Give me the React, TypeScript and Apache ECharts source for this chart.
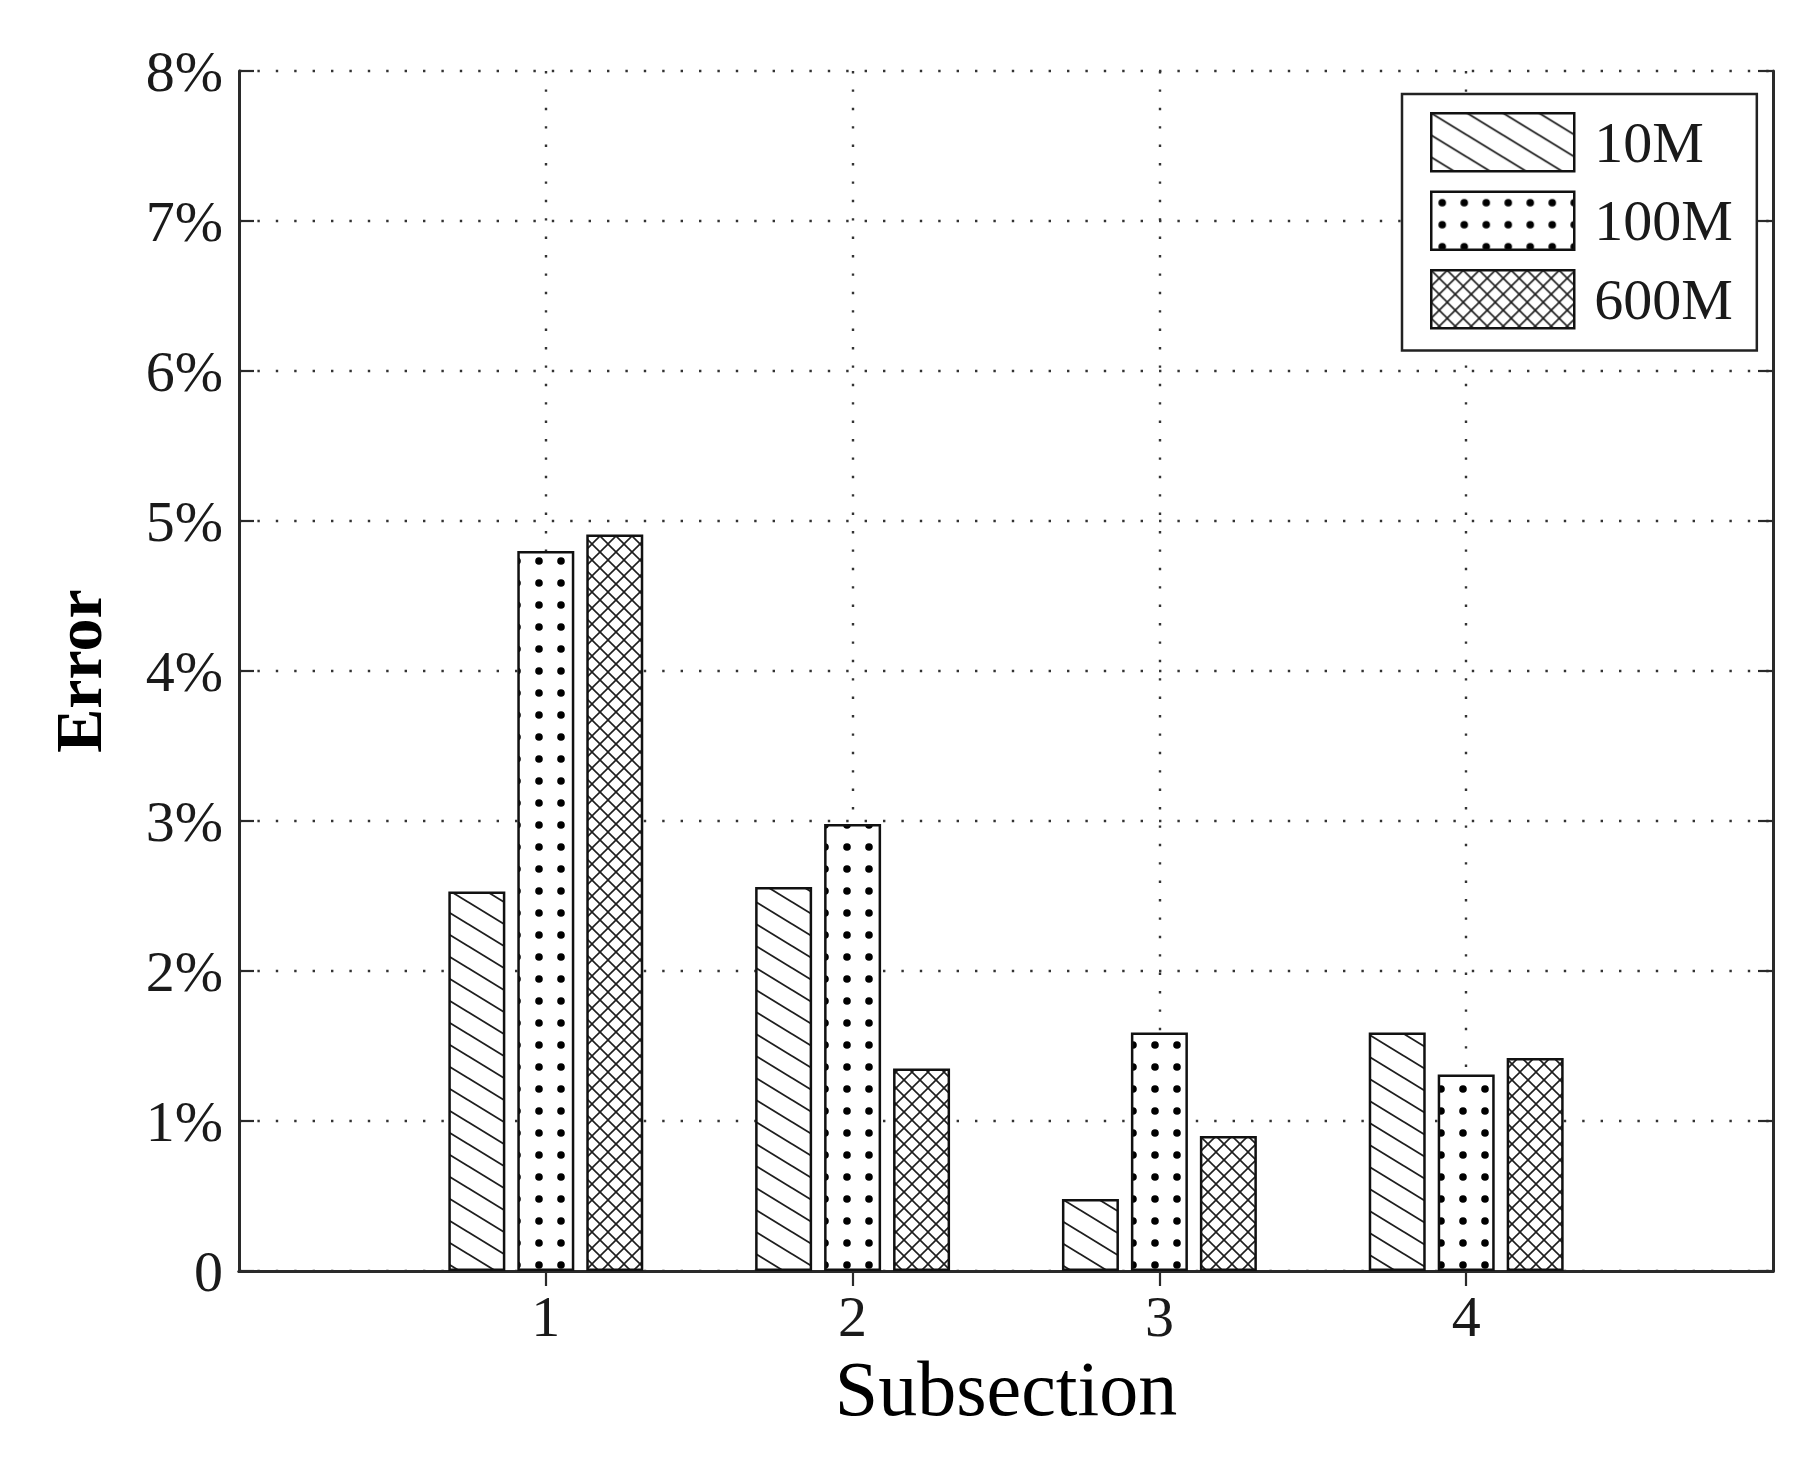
import React, { useEffect, useRef } from "react";
import * as echarts from "echarts";

// ---- data ----
const categories = ["1", "2", "3", "4"];
const xSlots = ["0", "1", "2", "3", "4", "5"]; // axis spans 0..5, bars at 1..4
const seriesNames = ["10M", "100M", "600M"];
const values10M = [2.53, 2.56, 0.48, 1.59];
const values100M = [4.8, 2.98, 1.59, 1.31];
const values600M = [4.91, 1.35, 0.9, 1.42];
const yTicks = [0, 1, 2, 3, 4, 5, 6, 7, 8];
const yTickLabels = ["0", "1%", "2%", "3%", "4%", "5%", "6%", "7%", "8%"];
const xName = "Subsection";
const yName = "Error";

const FONT = "'Liberation Serif', 'Times New Roman', serif";
const INK = "#1a1a1a";

function makeHatch(): HTMLCanvasElement {
  const c = document.createElement("canvas");
  c.width = 36;
  c.height = 22;
  const g = c.getContext("2d")!;
  g.fillStyle = "#fff";
  g.fillRect(0, 0, 36, 22);
  g.strokeStyle = "#1e1e1e";
  g.lineWidth = 1.8;
  for (let k = -2; k <= 2; k++) {
    g.beginPath();
    g.moveTo(-36, -22 + 22 * k);
    g.lineTo(72, 44 + 22 * k);
    g.stroke();
  }
  return c;
}

function makeDots(): HTMLCanvasElement {
  const c = document.createElement("canvas");
  c.width = 22;
  c.height = 22;
  const g = c.getContext("2d")!;
  g.fillStyle = "#fff";
  g.fillRect(0, 0, 22, 22);
  g.fillStyle = "#000";
  g.beginPath();
  g.arc(11, 11, 3.8, 0, Math.PI * 2);
  g.fill();
  return c;
}

function makeCross(): HTMLCanvasElement {
  const s = 16;
  const c = document.createElement("canvas");
  c.width = s;
  c.height = s;
  const g = c.getContext("2d")!;
  g.fillStyle = "#fff";
  g.fillRect(0, 0, s, s);
  g.strokeStyle = "#1e1e1e";
  g.lineWidth = 1.6;
  for (let k = -1; k <= 2; k++) {
    g.beginPath();
    g.moveTo(-s, -s + s * k);
    g.lineTo(2 * s, 2 * s + s * k);
    g.stroke();
    g.beginPath();
    g.moveTo(-s, s * k + s);
    g.lineTo(2 * s, s * k - 2 * s);
    g.stroke();
  }
  return c;
}

export default function App() {
  const ref = useRef<HTMLDivElement>(null);

  useEffect(() => {
    if (!ref.current) return;
    const chart = echarts.init(ref.current, null, { renderer: "svg" });
    const patterns = [makeHatch(), makeDots(), makeCross()];
    const allValues = [values10M, values100M, values600M];

    const series = seriesNames.map((name, si) => ({
      name,
      type: "bar",
      xAxisIndex: 0,
      yAxisIndex: 0,
      barWidth: 57,
      barGap: "21%",
      data: categories.map((c, i) => [c, allValues[si][i]]),
      itemStyle: {
        color: { image: patterns[si], repeat: "repeat" },
        borderColor: "#111",
        borderWidth: 2.5,
      },
      emphasis: { disabled: true },
    }));

    const frameLine = { show: true, lineStyle: { color: "#2a2a2a", width: 3 } };
    const dotted = { color: "#333", width: 2.4, type: [2.4, 16] };
    const tickStyle = { color: "#2a2a2a", width: 2.2 };

    chart.setOption({
      animation: false,
      backgroundColor: "#fff",
      grid: { left: 239, right: 47, top: 71, bottom: 186, containLabel: false },
      legend: {
        orient: "vertical",
        left: 1402,
        top: 94,
        padding: [18, 24, 21, 28],
        itemWidth: 143,
        itemHeight: 58,
        itemGap: 18,
        icon: "rect",
        backgroundColor: "#fff",
        borderColor: "#222",
        borderWidth: 2.5,
        borderRadius: 0,
        data: seriesNames,
        itemStyle: { borderColor: "#111", borderWidth: 2.5 },
        textStyle: {
          fontFamily: FONT,
          fontSize: 58,
          lineHeight: 58,
          color: INK,
          padding: [0, 0, 0, 15],
        },
        selectedMode: false,
      },
      xAxis: [
        {
          type: "category",
          data: xSlots,
          boundaryGap: false,
          position: "bottom",
          axisLine: frameLine,
          axisTick: {
            show: true,
            inside: true,
            length: 15,
            interval: (_i: number, v: string) => categories.includes(v),
            lineStyle: tickStyle,
          },
          axisLabel: {
            show: true,
            interval: 0,
            formatter: (v: string) => (categories.includes(v) ? v : ""),
            fontFamily: FONT,
            fontSize: 58,
            color: INK,
            margin: 16,
          },
          splitLine: {
            show: true,
            interval: (_i: number, v: string) => categories.includes(v),
            lineStyle: dotted,
          },
          name: xName,
          nameLocation: "middle",
          nameGap: 78,
          nameTextStyle: { fontFamily: FONT, fontSize: 78, color: "#000" },
        },
        {
          type: "category",
          data: xSlots,
          boundaryGap: false,
          position: "top",
          axisLine: frameLine,
          axisTick: {
            show: true,
            inside: true,
            length: 15,
            interval: (_i: number, v: string) => categories.includes(v),
            lineStyle: tickStyle,
          },
          axisLabel: { show: false },
          splitLine: { show: false },
        },
      ],
      yAxis: [
        {
          type: "value",
          min: 0,
          max: 8,
          interval: 1,
          position: "left",
          axisLine: frameLine,
          axisTick: { show: true, inside: true, length: 15, lineStyle: tickStyle },
          axisLabel: {
            formatter: (v: number) => {
              const idx = yTicks.indexOf(v);
              return idx >= 0 ? yTickLabels[idx] : "";
            },
            fontFamily: FONT,
            fontSize: 58,
            color: INK,
            margin: 16,
          },
          splitLine: { show: true, lineStyle: dotted },
          name: yName,
          nameLocation: "middle",
          nameGap: 128,
          nameTextStyle: { fontFamily: FONT, fontSize: 66, fontWeight: "bold", color: "#000" },
        },
        {
          type: "value",
          min: 0,
          max: 8,
          interval: 1,
          position: "right",
          axisLine: frameLine,
          axisTick: { show: true, inside: true, length: 15, lineStyle: tickStyle },
          axisLabel: { show: false },
          splitLine: { show: false },
        },
      ],
      series,
    });

    return () => chart.dispose();
  }, []);

  return (
    <div
      ref={ref}
      style={{ position: "absolute", left: 0, top: 0, width: 1820, height: 1457, background: "#fff" }}
    />
  );
}
